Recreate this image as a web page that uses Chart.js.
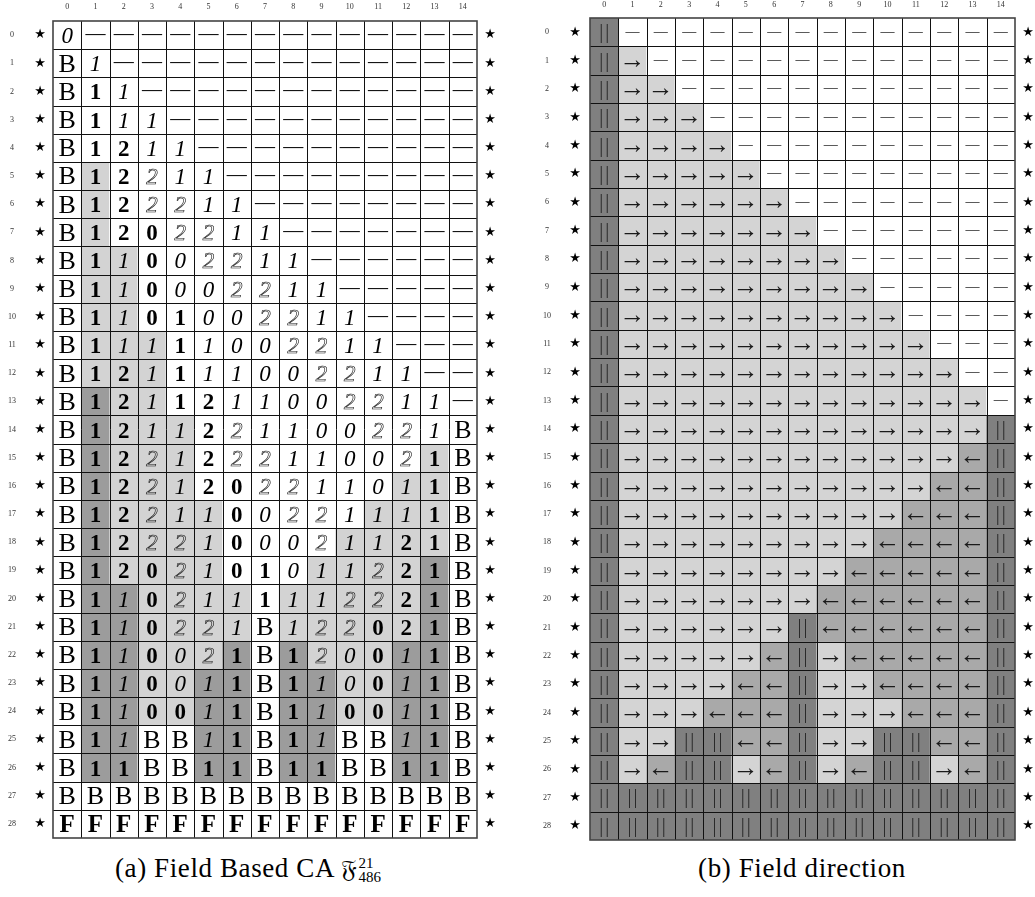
<!DOCTYPE html>
<html>
<head>
<meta charset="utf-8">
<script src="https://cdn.jsdelivr.net/npm/chart.js@4/dist/chart.umd.min.js"></script>
<style>
  body { margin: 0; background: #fff; width: 1035px; height: 897px; position: relative; overflow: hidden; }
  .wrap { position: absolute; top: 0; }
  canvas { display: block; }
  .cap { position: absolute; top: 853px; line-height: 30px; text-align: center; white-space: nowrap;
         font-family: "Liberation Serif", "DejaVu Serif", serif; font-size: 27px; letter-spacing: 0.6px; color: #000; }
  .frak { font-family: "DejaVu Sans", "DejaVu Serif", "Noto Sans", serif; font-size: 25px; }
  .ss { display: inline-block; vertical-align: -5px; font-size: 15px; line-height: 14px; text-align: left; margin-left: 1px; letter-spacing: 0; }
  .ss span { display: block; }
</style>
</head>
<body>
<div class="wrap" style="left:0"><canvas id="caChart" width="517" height="850"></canvas></div>
<div class="wrap" style="left:517px"><canvas id="dirChart" width="518" height="850"></canvas></div>
<div class="cap" style="left:0;width:496px">(a) Field Based CA <span class="frak">𝔉</span><span class="ss"><span>21</span><span>486</span></span></div>
<div class="cap" style="left:604px;width:396px">(b) Field direction</div>

<script>
const columns = ['0', '1', '2', '3', '4', '5', '6', '7', '8', '9', '10', '11', '12', '13', '14'];
const rows = [0, 1, 2, 3, 4, 5, 6, 7, 8, 9, 10, 11, 12, 13, 14, 15, 16, 17, 18, 19, 20, 21, 22, 23, 24, 25, 26, 27, 28];

// (a) cell contents: B / F letters, 0b 1b 2b bold digits, 0i 1i italic, 2c calligraphic 2, - empty
const caCells = [
  '0i - - - - - - - - - - - - - -',
  'B 1i - - - - - - - - - - - - -',
  'B 1b 1i - - - - - - - - - - - -',
  'B 1b 1i 1i - - - - - - - - - - -',
  'B 1b 2b 1i 1i - - - - - - - - - -',
  'B 1b 2b 2c 1i 1i - - - - - - - - -',
  'B 1b 2b 2c 2c 1i 1i - - - - - - - -',
  'B 1b 2b 0b 2c 2c 1i 1i - - - - - - -',
  'B 1b 1i 0b 0i 2c 2c 1i 1i - - - - - -',
  'B 1b 1i 0b 0i 0i 2c 2c 1i 1i - - - - -',
  'B 1b 1i 0b 1b 0i 0i 2c 2c 1i 1i - - - -',
  'B 1b 1i 1i 1b 1i 0i 0i 2c 2c 1i 1i - - -',
  'B 1b 2b 1i 1b 1i 1i 0i 0i 2c 2c 1i 1i - -',
  'B 1b 2b 1i 1b 2b 1i 1i 0i 0i 2c 2c 1i 1i -',
  'B 1b 2b 1i 1i 2b 2c 1i 1i 0i 0i 2c 2c 1i B',
  'B 1b 2b 2c 1i 2b 2c 2c 1i 1i 0i 0i 2c 1b B',
  'B 1b 2b 2c 1i 2b 0b 2c 2c 1i 1i 0i 1i 1b B',
  'B 1b 2b 2c 1i 1i 0b 0i 2c 2c 1i 1i 1i 1b B',
  'B 1b 2b 2c 2c 1i 0b 0i 0i 2c 1i 1i 2b 1b B',
  'B 1b 2b 0b 2c 1i 0b 1b 0i 1i 1i 2c 2b 1b B',
  'B 1b 1i 0b 2c 1i 1i 1b 1i 1i 2c 2c 2b 1b B',
  'B 1b 1i 0b 2c 2c 1i B 1i 2c 2c 0b 2b 1b B',
  'B 1b 1i 0b 0i 2c 1b B 1b 2c 0i 0b 1i 1b B',
  'B 1b 1i 0b 0i 1i 1b B 1b 1i 0i 0b 1i 1b B',
  'B 1b 1i 0b 0b 1i 1b B 1b 1i 0b 0b 1i 1b B',
  'B 1b 1i B B 1i 1b B 1b 1i B B 1i 1b B',
  'B 1b 1b B B 1b 1b B 1b 1b B B 1b 1b B',
  'B B B B B B B B B B B B B B B',
  'F F F F F F F F F F F F F F F'
];

// (a) shading: 0 white, 1 light grey, 2 dark grey
const caShade = [
  '000000000000000',
  '000000000000000',
  '000000000000000',
  '000000000000000',
  '000000000000000',
  '010000000000000',
  '010000000000000',
  '010000000000000',
  '011000000000000',
  '011000000000000',
  '011000000000000',
  '011100000000000',
  '011100000000000',
  '021100000000000',
  '021110000000000',
  '021110000000010',
  '021110000000110',
  '021111000001110',
  '021111000011110',
  '021111000111120',
  '022111101111120',
  '022111101111120',
  '022111202111220',
  '022112202211220',
  '022112202211220',
  '022002202200220',
  '022002202200220',
  '000000000000000',
  '000000000000000'
];

// (b) field direction: | wall, > right, < left, - none
const dirCells = [
  '|--------------',
  '|>-------------',
  '|>>------------',
  '|>>>-----------',
  '|>>>>----------',
  '|>>>>>---------',
  '|>>>>>>--------',
  '|>>>>>>>-------',
  '|>>>>>>>>------',
  '|>>>>>>>>>-----',
  '|>>>>>>>>>>----',
  '|>>>>>>>>>>>---',
  '|>>>>>>>>>>>>--',
  '|>>>>>>>>>>>>>-',
  '|>>>>>>>>>>>>>|',
  '|>>>>>>>>>>>><|',
  '|>>>>>>>>>>><<|',
  '|>>>>>>>>>><<<|',
  '|>>>>>>>>><<<<|',
  '|>>>>>>>><<<<<|',
  '|>>>>>>><<<<<<|',
  '|>>>>>>|<<<<<<|',
  '|>>>>><|><<<<<|',
  '|>>>><<|>><<<<|',
  '|>>><<<|>>><<<|',
  '|>>||<<|>>||<<|',
  '|><||><|><||><|',
  '|||||||||||||||',
  '|||||||||||||||'
];

const caColors = { '0': '#ffffff', '1': '#d3d3d3', '2': '#9c9c9c' };
const dirColors = { '-': '#ffffff', '>': '#d4d4d4', '<': '#a9a9a9', '|': '#808080' };
const SERIF = '"Liberation Serif", "DejaVu Serif", serif';

function rowDatasets(colorRows) {
  return rows.map((r, ri) => ({
    data: columns.map(() => [r - 0.5, r + 0.5]),
    backgroundColor: colorRows[ri],
    borderWidth: 0,
    grouped: false,
    barPercentage: 1,
    categoryPercentage: 1
  }));
}

// grid lines over the cells, placed with the scales
const gridLines = {
  id: 'gridLines',
  afterDatasetsDraw(chart) {
    const { ctx, scales: { x, y }, chartArea: a } = chart;
    const half = (x.getPixelForValue(1) - x.getPixelForValue(0)) / 2;
    ctx.save();
    ctx.strokeStyle = '#111';
    ctx.lineWidth = 1;
    ctx.beginPath();
    for (let r = 1; r < rows.length; r++) {
      const py = Math.round(y.getPixelForValue(r - 0.5)) + 0.5;
      ctx.moveTo(a.left, py); ctx.lineTo(a.right, py);
    }
    for (let c = 1; c < columns.length; c++) {
      const px = Math.round(x.getPixelForValue(c) - half) + 0.5;
      ctx.moveTo(px, a.top); ctx.lineTo(px, a.bottom);
    }
    ctx.stroke();
    ctx.strokeStyle = '#444';
    ctx.lineWidth = 1.6;
    ctx.strokeRect(a.left, a.top, a.right - a.left, a.bottom - a.top);
    ctx.restore();
  }
};

// row numbers, column numbers and the star columns
function drawFrame(chart, g) {
  const { ctx, scales: { x, y }, chartArea: a } = chart;
  ctx.textAlign = 'center';
  ctx.textBaseline = 'middle';
  ctx.fillStyle = '#333';
  ctx.font = '8px ' + SERIF;
  columns.forEach((c, ci) => ctx.fillText(c, x.getPixelForValue(ci), a.top - g.col));
  rows.forEach(r => ctx.fillText(String(r), a.left - g.row, y.getPixelForValue(r)));
  ctx.fillStyle = '#000';
  ctx.font = '13px "DejaVu Sans"';
  rows.forEach(r => {
    const py = y.getPixelForValue(r);
    ctx.fillText('★', a.left - g.starL, py);
    ctx.fillText('★', a.right + g.starR, py);
  });
}

const caText = {
  id: 'caText',
  afterDraw(chart) {
    const { ctx, scales: { x, y } } = chart;
    ctx.save();
    ctx.textAlign = 'center';
    ctx.textBaseline = 'alphabetic';
    ctx.fillStyle = '#000';
    ctx.strokeStyle = '#111';
    caCells.forEach((line, ri) => {
      line.split(' ').forEach((tok, ci) => {
        const cx = x.getPixelForValue(ci);
        const cy = y.getPixelForValue(rows[ri]);
        if (tok === '-') {
          ctx.font = '20px ' + SERIF;
          ctx.fillText('—', cx, cy + 5);
        } else if (tok === 'B') {
          ctx.font = '26px ' + SERIF;
          ctx.fillText('B', cx, cy + 8.5);
        } else if (tok === 'F') {
          ctx.font = 'bold 25px ' + SERIF;
          ctx.fillText('F', cx, cy + 8.5);
        } else if (tok[1] === 'b') {
          ctx.font = 'bold 23px ' + SERIF;
          ctx.fillText(tok[0], cx, cy + 8);
        } else if (tok[1] === 'i') {
          ctx.font = 'italic 23px ' + SERIF;
          ctx.fillText(tok[0], cx, cy + 8);
        } else if (tok[1] === 'c') {
          ctx.font = 'italic 23px ' + SERIF;
          ctx.lineWidth = 0.6;
          ctx.strokeText(tok[0], cx, cy + 8);
        }
      });
    });
    drawFrame(chart, { col: 14, row: 41, starL: 13, starR: 13 });
    ctx.restore();
  }
};

const dirText = {
  id: 'dirText',
  afterDraw(chart) {
    const { ctx, scales: { x, y } } = chart;
    ctx.save();
    ctx.textAlign = 'center';
    ctx.textBaseline = 'alphabetic';
    dirCells.forEach((line, ri) => {
      line.split('').forEach((ch, ci) => {
        const cx = x.getPixelForValue(ci);
        const cy = y.getPixelForValue(rows[ri]);
        ctx.fillStyle = '#1a1a1a';
        if (ch === '-') {
          ctx.font = '14px ' + SERIF;
          ctx.fillText('—', cx, cy + 3.5);
        } else if (ch === '>') {
          ctx.font = '26px ' + SERIF;
          ctx.fillText('→', cx, cy + 7);
        } else if (ch === '<') {
          ctx.font = '26px ' + SERIF;
          ctx.fillText('←', cx, cy + 7);
        } else if (ch === '|') {
          ctx.fillStyle = '#2a2a2a';
          ctx.font = '20px ' + SERIF;
          ctx.fillText('|', cx - 3, cy + 6);
          ctx.fillText('|', cx + 3, cy + 6);
        }
      });
    });
    drawFrame(chart, { col: 13, row: 43, starL: 15, starR: 13 });
    ctx.restore();
  }
};

function makeChart(id, colorRows, textPlugin, area) {
  return new Chart(document.getElementById(id), {
    type: 'bar',
    data: { labels: columns, datasets: rowDatasets(colorRows) },
    options: {
      responsive: false,
      animation: false,
      layout: { padding: area },
      plugins: { legend: { display: false }, tooltip: { enabled: false } },
      scales: {
        x: { type: 'category', display: false, offset: true },
        y: { type: 'linear', display: false, reverse: true, min: -0.5, max: 28.5 }
      }
    },
    plugins: [gridLines, textPlugin]
  });
}

makeChart('caChart', caShade.map(s => s.split('').map(k => caColors[k])), caText,
  { left: 53, top: 21, right: 40, bottom: 12 });
makeChart('dirChart', dirCells.map(s => s.split('').map(k => dirColors[k])), dirText,
  { left: 73, top: 18, right: 20, bottom: 10 });
</script>
</body>
</html>
